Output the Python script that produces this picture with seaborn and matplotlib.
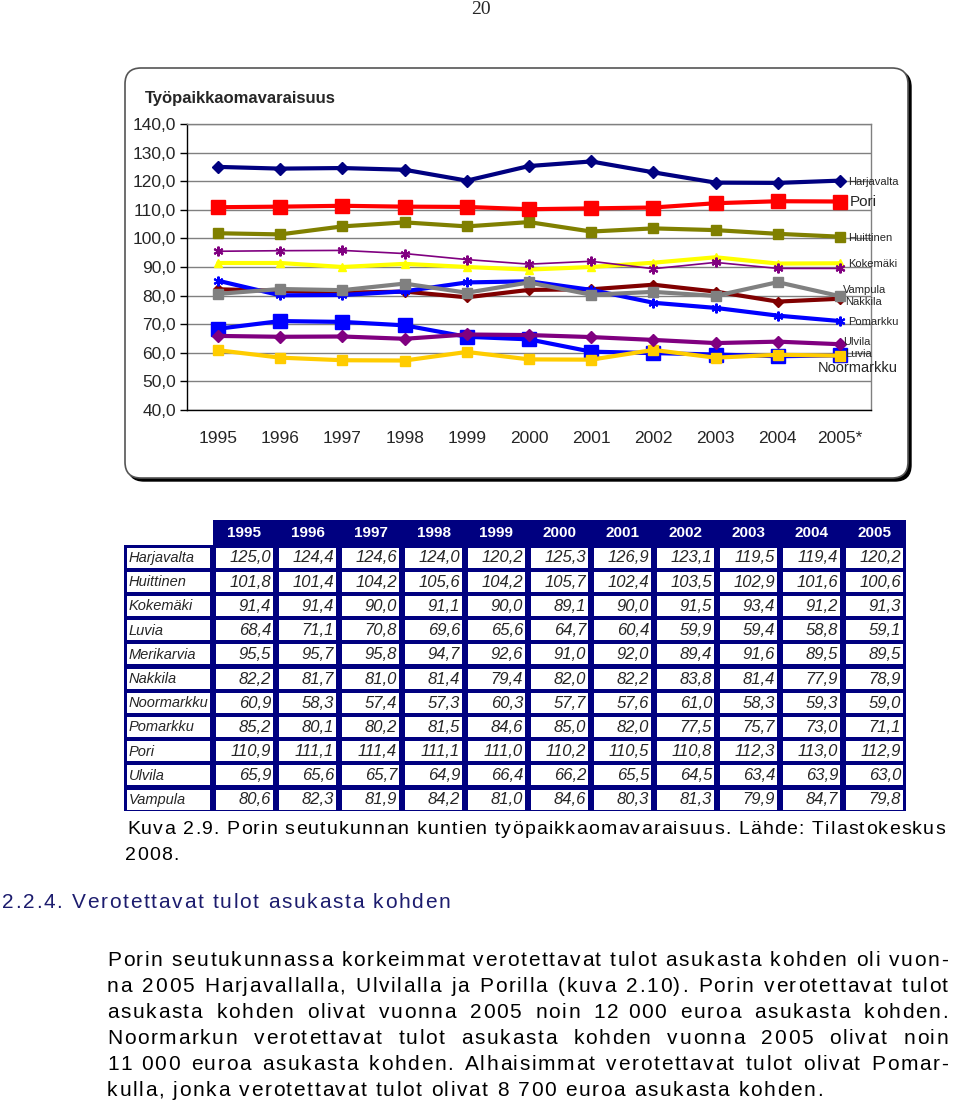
import numpy as np
import pandas as pd
import seaborn as sns
import matplotlib.pyplot as plt
from matplotlib.patches import FancyBboxPatch, Rectangle

# data
years = ['1995', '1996', '1997', '1998', '1999', '2000', '2001', '2002', '2003', '2004', '2005']
year_labels = years[:-1] + ['2005*']
kunnat = ['Harjavalta', 'Huittinen', 'Kokemäki', 'Luvia', 'Merikarvia', 'Nakkila',
          'Noormarkku', 'Pomarkku', 'Pori', 'Ulvila', 'Vampula']

harjavalta = [125.0, 124.4, 124.6, 124.0, 120.2, 125.3, 126.9, 123.1, 119.5, 119.4, 120.2]
huittinen = [101.8, 101.4, 104.2, 105.6, 104.2, 105.7, 102.4, 103.5, 102.9, 101.6, 100.6]
kokemaki = [91.4, 91.4, 90.0, 91.1, 90.0, 89.1, 90.0, 91.5, 93.4, 91.2, 91.3]
luvia = [68.4, 71.1, 70.8, 69.6, 65.6, 64.7, 60.4, 59.9, 59.4, 58.8, 59.1]
merikarvia = [95.5, 95.7, 95.8, 94.7, 92.6, 91.0, 92.0, 89.4, 91.6, 89.5, 89.5]
nakkila = [82.2, 81.7, 81.0, 81.4, 79.4, 82.0, 82.2, 83.8, 81.4, 77.9, 78.9]
noormarkku = [60.9, 58.3, 57.4, 57.3, 60.3, 57.7, 57.6, 61.0, 58.3, 59.3, 59.0]
pomarkku = [85.2, 80.1, 80.2, 81.5, 84.6, 85.0, 82.0, 77.5, 75.7, 73.0, 71.1]
pori = [110.9, 111.1, 111.4, 111.1, 111.0, 110.2, 110.5, 110.8, 112.3, 113.0, 112.9]
ulvila = [65.9, 65.6, 65.7, 64.9, 66.4, 66.2, 65.5, 64.5, 63.4, 63.9, 63.0]
vampula = [80.6, 82.3, 81.9, 84.2, 81.0, 84.6, 80.3, 81.3, 79.9, 84.7, 79.8]

series = [harjavalta, huittinen, kokemaki, luvia, merikarvia, nakkila,
          noormarkku, pomarkku, pori, ulvila, vampula]

df = pd.DataFrame({'kunta': np.repeat(kunnat, len(years)),
                   'vuosi': np.tile(np.arange(len(years)), len(kunnat)),
                   'arvo': np.concatenate(series)})

# line styles: color, marker, markersize, linewidth
AST = (6, 2, 0)
styles = {
    'Harjavalta': ('#000080', 'D', 6, 3),
    'Huittinen': ('#808000', 's', 7.5, 3),
    'Kokemäki': ('#FFFF00', '^', 6, 3),
    'Luvia': ('#0000FF', 's', 9.5, 3),
    'Merikarvia': ('#800080', AST, 7, 1.2),
    'Nakkila': ('#800000', 'D', 5, 3),
    'Noormarkku': ('#FFCC00', 's', 7.5, 3),
    'Pomarkku': ('#0000FF', AST, 7, 3),
    'Pori': ('#FF0000', 's', 10, 3),
    'Ulvila': ('#800080', 'D', 6, 3),
    'Vampula': ('#808080', 's', 7, 3),
}

# end labels (name, x px, y px, fontsize)
end_labels = [('Harjavalta', 848, 182, 8), ('Pori', 850, 202, 11), ('Huittinen', 848, 238, 8),
              ('Kokemäki', 848, 264, 8), ('Vampula', 843, 290, 8), ('Nakkila', 845, 302, 8),
              ('Pomarkku', 848, 322, 8), ('Ulvila', 843, 342, 8), ('Luvia', 845, 354, 8),
              ('Noormarkku', 818, 368, 10.5)]

sns.set_theme(style='white')
SANS = 'Liberation Sans'
plt.rcParams['font.family'] = [SANS, 'DejaVu Sans']

fig = plt.figure(figsize=(9.6, 11.05), dpi=100)
page = fig.add_axes([0, 0, 1, 1], zorder=0)
page.set_xlim(0, 960)
page.set_ylim(1105, 0)
page.axis('off')
renderer = fig.canvas.get_renderer()

# page number
page.text(481, 9, '20', fontsize=14, family=['Liberation Serif', 'DejaVu Serif'],
          ha='center', va='center')

# chart frame with shadow
page.add_patch(FancyBboxPatch((128, 71), 783, 410, boxstyle='round,pad=0,rounding_size=16',
                              fc='black', ec='black', lw=1))
page.add_patch(FancyBboxPatch((125, 68), 783, 410, boxstyle='round,pad=0,rounding_size=16',
                              fc='white', ec='#555555', lw=1.2))
page.text(145, 99, 'Työpaikkaomavaraisuus', fontsize=12, fontweight='bold',
          ha='left', va='center')

ax = fig.add_axes([187 / 960, 1 - 410 / 1105, 684 / 960, 286 / 1105], zorder=2)
ax.set_facecolor('none')
for k in kunnat:
    c, m, ms, lw = styles[k]
    d = df[df['kunta'] == k]
    sns.lineplot(data=d, x='vuosi', y='arvo', ax=ax, color=c, marker=m, markersize=ms,
                 lw=lw, markeredgecolor=c, markeredgewidth=1.5 if m == AST else 1,
                 legend=False)

ax.set_xlim(-0.5, 10.5)
ax.set_ylim(40, 140)
ax.set_yticks(range(40, 141, 10))
ax.set_yticklabels([f'{v},0' for v in range(40, 141, 10)], fontsize=12.5)
ax.set_xticks(range(len(years)))
ax.set_xticklabels(year_labels, fontsize=12.5)
ax.set_xticks(np.arange(-0.5, 11, 1), minor=True)
ax.tick_params(axis='x', which='major', length=0, pad=15)
ax.tick_params(axis='x', which='minor', length=5, width=1, color='black', direction='out')
ax.tick_params(axis='y', length=5, width=1, color='black', direction='out', left=True, pad=3)
ax.yaxis.grid(True, color='#808080', lw=1)
ax.set_axisbelow(True)
ax.set_xlabel('')
ax.set_ylabel('')
for s in ['top', 'right']:
    ax.spines[s].set_color('#808080')
    ax.spines[s].set_linewidth(1)
for s in ['left', 'bottom']:
    ax.spines[s].set_color('black')
    ax.spines[s].set_linewidth(1)

for name, x, y, fs in end_labels:
    ax.text(x, y, name, fontsize=fs, ha='left', va='center',
            transform=page.transData, clip_on=False)

# table
NAVY = '#000080'
page.add_patch(Rectangle((213, 520), 693, 25, fc=NAVY, ec='none'))
page.add_patch(Rectangle((124, 545), 782, 266, fc=NAVY, ec='none'))
for j, y in enumerate(years):
    page.text(216 + j * 63 + 28.5, 533, y, color='white', fontsize=11, fontweight='bold',
              ha='center', va='center')
for i, k in enumerate(kunnat):
    y0 = 547.5 + i * 24.2
    page.add_patch(Rectangle((127, y0), 83, 20, fc='white', ec='none'))
    page.text(129, y0 + 10.5, k, fontsize=10.5, style='italic', ha='left', va='center')
    for j, v in enumerate(series[i]):
        x0 = 216 + j * 63
        page.add_patch(Rectangle((x0, y0), 57, 20, fc='white', ec='none'))
        page.text(x0 + 55, y0 + 10.5, f'{v:.1f}'.replace('.', ','), fontsize=12,
                  style='italic', ha='right', va='center')

# letter-spaced body text, as in the scanned page
_adv = {}


def adv(ch, size):
    key = (ch, size)
    if key not in _adv:
        a = page.text(0, 0, 'H' + ch + 'H', fontsize=size)
        b = page.text(0, 0, 'HH', fontsize=size)
        _adv[key] = a.get_window_extent(renderer).width - b.get_window_extent(renderer).width
        a.remove()
        b.remove()
    return _adv[key]


def natural(text, size):
    return sum(adv(ch, size) for ch in text)


def tracked(text, x0, y, size, track, space_extra=0.0, color='black'):
    x = x0
    for ch in text:
        if ch not in (' ', '\u00a0'):
            page.text(x, y, ch, fontsize=size, color=color, ha='left', va='center')
        x += adv(ch, size) + track + (space_extra if ch == ' ' else 0)


def track_for(text, x0, x1, size):
    return (x1 - x0 - natural(text, size)) / (len(text) - 1)


def justify(text, x0, x1, y, size, track, color='black'):
    base = natural(text, size) + track * (len(text) - 1)
    extra = (x1 - x0 - base) / max(text.count(' '), 1)
    tracked(text, x0, y, size, track, extra, color)


PSIZE = 15
kappale = [
    'Porin seutukunnassa korkeimmat verotettavat tulot asukasta kohden oli vuon-',
    'na 2005 Harjavallalla, Ulvilalla ja Porilla (kuva 2.10). Porin verotettavat tulot',
    'asukasta kohden olivat vuonna 2005 noin 12\u00a0000 euroa asukasta kohden.',
    'Noormarkun verotettavat tulot asukasta kohden vuonna 2005 olivat noin',
    '11\u00a0000 euroa asukasta kohden. Alhaisimmat verotettavat tulot olivat Pomar-',
    'kulla, jonka verotettavat tulot olivat 8\u00a0700 euroa asukasta kohden.',
]
trk = min([track_for(kappale[-1], 107, 826, PSIZE)] +
          [track_for(r, 107, 948, PSIZE) for r in kappale[:-1]])
trk = max(trk, 0)
for n, rivi in enumerate(kappale[:-1]):
    justify(rivi, 107, 948, 960 + 26 * n, PSIZE, trk)
tracked(kappale[-1], 107, 960 + 26 * 5, PSIZE, trk)

otsikko = '2.2.4. Verotettavat tulot asukasta kohden'
tracked(otsikko, 2, 902, PSIZE, max(track_for(otsikko, 2, 450, PSIZE), 0), color='#1c1c6e')

kuvateksti = 'Kuva 2.9. Porin seutukunnan kuntien työpaikkaomavaraisuus. Lähde: Tilastokeskus'
CSIZE = 14
ctrk = max(track_for(kuvateksti, 127, 945, CSIZE), 0)
tracked(kuvateksti, 127, 830, CSIZE, ctrk)
tracked('2008.', 125, 856, CSIZE, ctrk)

fig.savefig('out.png', dpi=100)
